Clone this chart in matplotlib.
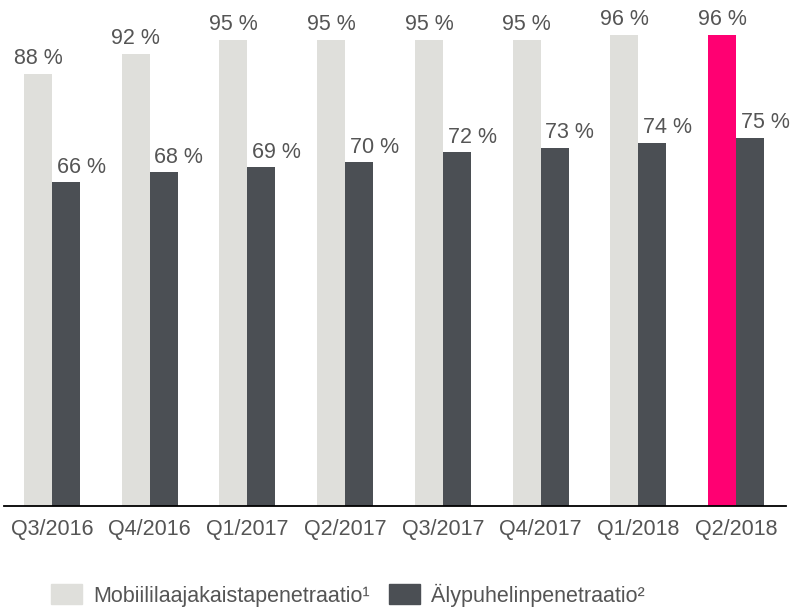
import numpy as np
import matplotlib.pyplot as plt
from matplotlib.patches import Patch

quarters = ['Q3/2016', 'Q4/2016', 'Q1/2017', 'Q2/2017',
            'Q3/2017', 'Q4/2017', 'Q1/2018', 'Q2/2018']
mobile_bb = [88, 92, 95, 95, 95, 95, 96, 96]
smartphone = [66, 68, 69, 70, 72, 73, 74, 75]
legend_labels = ['Mobiililaajakaistapenetraatio¹', 'Älypuhelinpenetraatio²']

light = '#dfdfdb'
dark = '#4b4f54'
pink = '#ff0072'
txt = '#555555'
fs = 15.5

plt.rcParams['font.family'] = ['Liberation Sans', 'DejaVu Sans']

fig = plt.figure(figsize=(7.92, 6.09), dpi=100)
ax = fig.add_axes([4/792, 103/609, 782/792, 491/609])

x = np.arange(len(quarters))
w = 0.2866
cols = [light] * (len(quarters) - 1) + [pink]
b1 = ax.bar(x - w/2, mobile_bb, w, color=cols)
b2 = ax.bar(x + w/2, smartphone, w, color=dark)

# light labels centred on bar, dark labels shifted a bit right (as in original)
for b, v in zip(b1, mobile_bb):
    ax.text(b.get_x() + b.get_width()/2, v + 2, f'{v} %', ha='center', va='baseline',
            fontsize=fs, color=txt, clip_on=False)
for b, v in zip(b2, smartphone):
    ax.text(b.get_x() + b.get_width()/2 + 0.155, v + 1.9, f'{v} %', ha='center', va='baseline',
            fontsize=fs, color=txt, clip_on=False)

ax.set_xlim(-0.49, 7.51)
ax.set_ylim(0, 100)
ax.set_xticks(x)
ax.set_xticklabels(quarters, fontsize=fs, color=txt)
ax.tick_params(axis='x', length=0, pad=9)
ax.set_yticks([])
for s in ['top', 'right', 'left']:
    ax.spines[s].set_visible(False)
ax.spines['bottom'].set_color('#000000')
ax.spines['bottom'].set_linewidth(1.3)

handles = [Patch(color=light), Patch(color=dark)]
leg = fig.legend(handles, legend_labels, loc='center', bbox_to_anchor=(348/792, 1 - 595/609),
                 ncol=2, frameon=False, fontsize=fs, handlelength=1.44, handleheight=1.02,
                 handletextpad=0.51, columnspacing=0.88)
for t in leg.get_texts():
    t.set_color(txt)

fig.savefig('out.png', dpi=100)
